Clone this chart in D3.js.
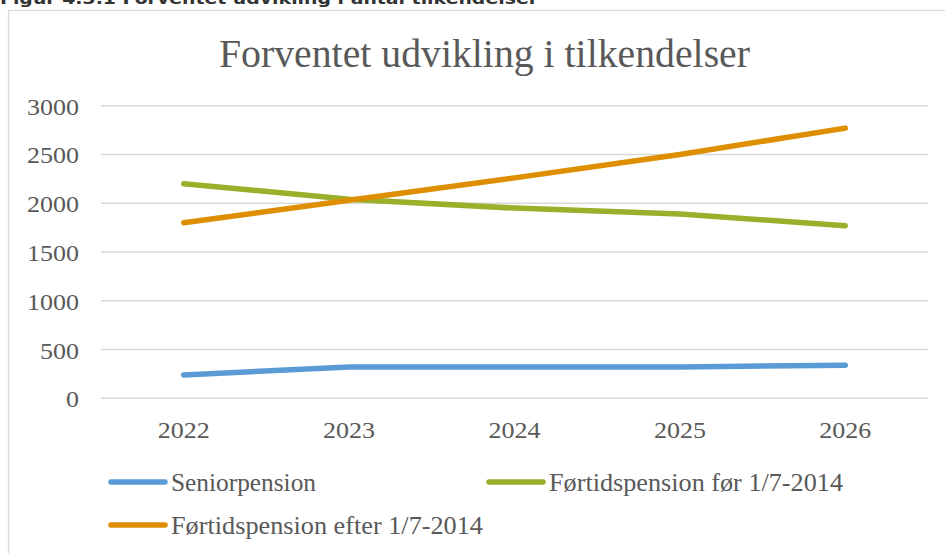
<!DOCTYPE html>
<html>
<head>
<meta charset="utf-8">
<script src="https://cdn.jsdelivr.net/npm/d3@7"></script>
<style>
  body { margin: 0; background: #fff; }
  svg { display: block; }
</style>
</head>
<body>
<script>
const years = ['2022', '2023', '2024', '2025', '2026'];
const seniorpension = [240, 320, 320, 320, 340];
const foerFoer = [2200, 2040, 1950, 1890, 1770];
const foerEfter = [1800, 2030, 2260, 2500, 2770];
const yTicks = [0, 500, 1000, 1500, 2000, 2500, 3000];
const seriesNames = ['Seniorpension', 'Førtidspension før 1/7-2014', 'Førtidspension efter 1/7-2014'];

const series = [
    { name: seriesNames[0], values: seniorpension, color: '#5B9BD5' },
    { name: seriesNames[1], values: foerFoer, color: '#9BAF2A' },
    { name: seriesNames[2], values: foerEfter, color: '#DE8F00' }
];

var width = 945, height = 553;
var plot = { left: 101, right: 928, top: 105.7, bottom: 398.3 };

var svg = d3.select("body")
    .append("svg")
    .attr("width", width)
    .attr("height", height);

// Header text of the document, cut at the top
svg.append("text")
    .attr("x", 0)
    .attr("y", 4)
    .style("font-family", "DejaVu Sans")
    .style("font-weight", "bold")
    .style("font-size", "16px")
    .attr("textLength", 538)
    .attr("lengthAdjust", "spacingAndGlyphs")
    .attr("fill", "#333")
    .text("Figur 4.3.1 Forventet udvikling i antal tilkendelser");

// Chart area border
svg.append("rect")
    .attr("x", 8.5)
    .attr("y", 10.5)
    .attr("width", 960)
    .attr("height", 600)
    .attr("fill", "#fff")
    .attr("stroke", "#D9D9D9")
    .attr("stroke-width", 1.3);

var x = d3.scaleBand()
    .domain(years)
    .range([plot.left, plot.right]);

var y = d3.scaleLinear()
    .domain([0, 3000])
    .range([plot.bottom, plot.top]);

// Gridlines
svg.append("g")
    .selectAll("line")
    .data(yTicks)
    .join("line")
    .attr("x1", plot.left)
    .attr("x2", plot.right)
    .attr("y1", d => y(d))
    .attr("y2", d => y(d))
    .attr("stroke", "#D9D9D9")
    .attr("stroke-width", 1.5);

// Y axis labels
svg.append("g")
    .selectAll("text")
    .data(yTicks)
    .join("text")
    .attr("x", 79)
    .attr("y", d => y(d) + 9)
    .attr("text-anchor", "end")
    .style("font-family", "Liberation Serif")
    .style("font-size", "23px")
    .attr("fill", "#595959")
    .attr("textLength", d => String(d).length * 13)
    .attr("lengthAdjust", "spacingAndGlyphs")
    .text(d => d);

// X axis labels
svg.append("g")
    .selectAll("text")
    .data(years)
    .join("text")
    .attr("x", d => x(d) + x.bandwidth() / 2)
    .attr("y", 438)
    .attr("text-anchor", "middle")
    .style("font-family", "Liberation Serif")
    .style("font-size", "23px")
    .attr("fill", "#595959")
    .attr("textLength", 52)
    .attr("lengthAdjust", "spacingAndGlyphs")
    .text(d => d);

// Lines
var line = d3.line()
    .x((d, i) => x(years[i]) + x.bandwidth() / 2)
    .y(d => y(d));

svg.append("g")
    .selectAll("path")
    .data(series)
    .join("path")
    .attr("d", d => line(d.values))
    .attr("fill", "none")
    .attr("stroke", d => d.color)
    .attr("stroke-width", 5.5)
    .attr("stroke-linecap", "round")
    .attr("stroke-linejoin", "round");

// Title
svg.append("text")
    .attr("x", 484.5)
    .attr("y", 67)
    .attr("text-anchor", "middle")
    .style("font-family", "Liberation Serif")
    .style("font-size", "39px")
    .attr("fill", "#595959")
    .attr("textLength", 531)
    .attr("lengthAdjust", "spacingAndGlyphs")
    .text("Forventet udvikling i tilkendelser");

// Legend
var legendPos = [
    { lx: 111, ly: 482, tw: 145 },
    { lx: 489, ly: 482, tw: 294 },
    { lx: 111, ly: 525, tw: 312 }
];

var legend = svg.append("g")
    .selectAll("g")
    .data(series)
    .join("g")
    .attr("transform", (d, i) => `translate(${legendPos[i].lx},${legendPos[i].ly})`);

legend.append("line")
    .attr("x1", 0)
    .attr("x2", 54)
    .attr("stroke", d => d.color)
    .attr("stroke-width", 5.5)
    .attr("stroke-linecap", "round");

legend.append("text")
    .attr("x", 60)
    .attr("y", 9)
    .style("font-family", "Liberation Serif")
    .style("font-size", "25px")
    .attr("fill", "#595959")
    .attr("textLength", (d, i) => legendPos[i].tw)
    .attr("lengthAdjust", "spacingAndGlyphs")
    .text(d => d.name);
</script>
</body>
</html>
